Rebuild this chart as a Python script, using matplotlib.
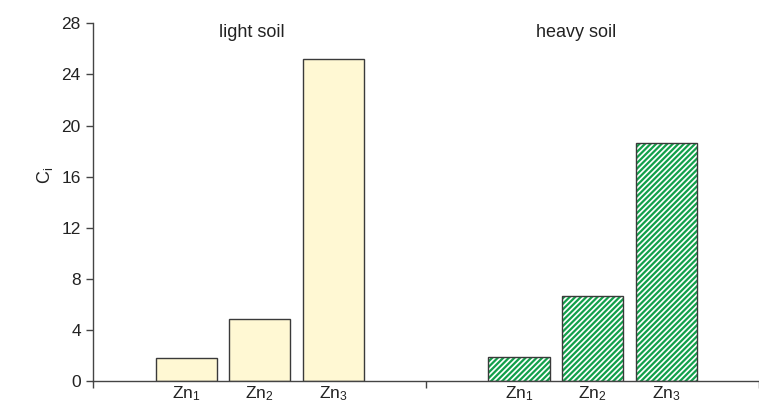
import matplotlib
matplotlib.use("Agg")
import matplotlib.pyplot as plt

plt.rcParams["font.family"] = ["Liberation Sans", "DejaVu Sans"]
plt.rcParams["mathtext.fontset"] = "custom"
plt.rcParams["mathtext.rm"] = "Liberation Sans"
plt.rcParams["mathtext.it"] = "Liberation Sans:italic"
plt.rcParams["hatch.linewidth"] = 1.6

# data
soils = ["light soil", "heavy soil"]
doses = ["Zn$_1$", "Zn$_2$", "Zn$_3$"]
light = [1.8, 4.9, 25.2]
heavy = [1.9, 6.65, 18.65]

fig = plt.figure(figsize=(7.59, 4.05), dpi=100)
ax = fig.add_axes([93.3 / 759, 23.7 / 405, 1 - 93.3 / 759, 358 / 405])

offsets = [-0.221, 0.0, 0.221]
w = 0.184
edge = "#3a3a3a"
for i in range(3):
    x = 0.5 + offsets[i]
    ax.bar(x, light[i], w, color="#fff8d3", edgecolor=edge, linewidth=1.0)
    ax.text(x, -0.2, doses[i], ha="center", va="top", fontsize=12.5, color="#222222")
for i in range(3):
    x = 1.5 + offsets[i]
    ax.bar(x, heavy[i], w, color="white", edgecolor="#12a04a", hatch="//////", linewidth=0)
    ax.bar(x, heavy[i], w, fill=False, edgecolor=edge, linewidth=1.0)
    ax.text(x, -0.2, doses[i], ha="center", va="top", fontsize=12.5, color="#222222")

ax.text(0.477, 27.3, soils[0], ha="center", va="center", fontsize=13, color="#222222")
ax.text(1.452, 27.3, soils[1], ha="center", va="center", fontsize=13, color="#222222")

ax.set_xlim(0, (759 - 93.3) / 338.7)
ax.set_ylim(0, 28)
ax.set_yticks(range(0, 29, 4))
ax.set_xticks([0, 1, 2])
ax.set_xticklabels([])
ax.tick_params(axis="y", length=5, width=1, color="#444444", labelsize=12.5, labelcolor="#222222", pad=4)
ax.tick_params(axis="x", length=5, width=1, color="#444444")
for s in ["top", "right"]:
    ax.spines[s].set_visible(False)
for s in ["left", "bottom"]:
    ax.spines[s].set_color("#444444")
    ax.spines[s].set_linewidth(1.0)
ax.set_ylabel("C$_\\mathrm{i}$", fontsize=13, color="#222222")
ax.yaxis.set_label_coords(-0.058, 0.575)

fig.savefig("out.png", dpi=100)
